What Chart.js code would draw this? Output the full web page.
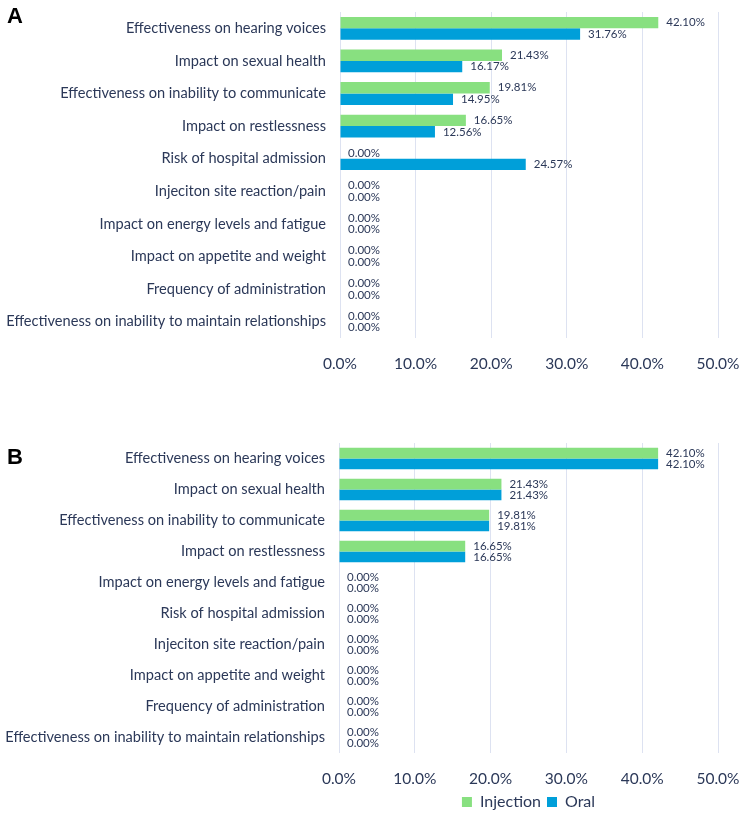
<!DOCTYPE html>
<html>
<head>
<meta charset="utf-8">
<script src="https://cdn.jsdelivr.net/npm/chart.js@4"></script>
<style>
  html, body { margin: 0; padding: 0; background: #fff; overflow: hidden; }
  .panel { position: absolute; left: 0; width: 750px; }
  #wrap-a { top: 0; height: 385px; }
  #wrap-b { top: 385px; height: 435px; }
  .letter { position: absolute; left: 7px; font: bold 22px "Liberation Sans", Arial, sans-serif; color: #000; }
</style>
</head>
<body>
<div class="panel" id="wrap-a"><canvas id="chart-a"></canvas></div>
<div class="panel" id="wrap-b"><canvas id="chart-b"></canvas></div>
<div class="letter" style="top:3px">A</div>
<div class="letter" style="top:444px">B</div>
<script>
const seriesNames = ['Injection', 'Oral'];

const categoriesA = [
    'Effectiveness on hearing voices',
    'Impact on sexual health',
    'Effectiveness on inability to communicate',
    'Impact on restlessness',
    'Risk of hospital admission',
    'Injeciton site reaction/pain',
    'Impact on energy levels and fatigue',
    'Impact on appetite and weight',
    'Frequency of administration',
    'Effectiveness on inability to maintain relationships'
];
const injectionA = [42.10, 21.43, 19.81, 16.65, 0, 0, 0, 0, 0, 0];
const oralA = [31.76, 16.17, 14.95, 12.56, 24.57, 0, 0, 0, 0, 0];

const categoriesB = [
    'Effectiveness on hearing voices',
    'Impact on sexual health',
    'Effectiveness on inability to communicate',
    'Impact on restlessness',
    'Impact on energy levels and fatigue',
    'Risk of hospital admission',
    'Injeciton site reaction/pain',
    'Impact on appetite and weight',
    'Frequency of administration',
    'Effectiveness on inability to maintain relationships'
];
const injectionB = [42.10, 21.43, 19.81, 16.65, 0, 0, 0, 0, 0, 0];
const oralB = [42.10, 21.43, 19.81, 16.65, 0, 0, 0, 0, 0, 0];

const xTicks = [0, 10, 20, 30, 40, 50];

const textColor = '#2b3858';
const gridColor = '#dde2f1';
const green = '#88e080';
const blue = '#009fd9';

// value labels next to each bar (no datalabels plugin available)
const barValueLabels = {
    id: 'barValueLabels',
    afterDatasetsDraw(chart) {
        const ctx = chart.ctx;
        ctx.save();
        ctx.font = '11.5px Lato';
        ctx.fillStyle = textColor;
        ctx.textAlign = 'left';
        ctx.textBaseline = 'middle';
        chart.data.datasets.forEach((ds, i) => {
            chart.getDatasetMeta(i).data.forEach((bar, j) => {
                ctx.fillText(ds.data[j].toFixed(2) + '%', bar.x + 8, bar.y);
            });
        });
        ctx.restore();
    }
};

function makeChart(id, labels, injection, oral, opts) {
    return new Chart(document.getElementById(id), {
        type: 'bar',
        data: {
            labels: labels,
            datasets: [
                { label: seriesNames[0], data: injection, backgroundColor: green, borderWidth: 0 },
                { label: seriesNames[1], data: oral, backgroundColor: blue, borderWidth: 0 }
            ]
        },
        options: {
            indexAxis: 'y',
            responsive: true,
            maintainAspectRatio: false,
            animation: false,
            categoryPercentage: 0.7,
            barPercentage: 1.0,
            layout: { padding: { top: opts.top, right: 32, left: 0, bottom: 0 } },
            plugins: {
                legend: {
                    display: opts.legend,
                    position: 'bottom',
                    fullSize: false,
                    labels: {
                        color: textColor,
                        font: { family: 'Lato', size: 16 },
                        boxWidth: 10,
                        boxHeight: 10,
                        padding: 6
                    }
                },
                tooltip: { enabled: false }
            },
            scales: {
                x: {
                    min: 0,
                    max: 50,
                    afterBuildTicks: axis => { axis.ticks = xTicks.map(v => ({ value: v })); },
                    afterFit: axis => {
                        axis.height = opts.xHeight;
                        axis.paddingLeft = 0;
                        axis.paddingRight = 0;
                    },
                    grid: { color: gridColor, drawTicks: false },
                    border: { display: false },
                    ticks: {
                        color: textColor,
                        font: { family: 'Lato', size: 15.5 },
                        padding: 17,
                        callback: v => v.toFixed(1) + '%'
                    }
                },
                y: {
                    afterFit: axis => {
                        axis.width = opts.yWidth;
                        axis.paddingTop = 0;
                        axis.paddingBottom = 0;
                    },
                    grid: { display: false, drawTicks: false },
                    border: { display: false },
                    ticks: {
                        color: textColor,
                        font: { family: 'Lato', size: 14.6 },
                        padding: 14,
                        autoSkip: false
                    }
                }
            }
        },
        plugins: [barValueLabels]
    });
}

makeChart('chart-a', categoriesA, injectionA, oralA, { top: 12, xHeight: 47, yWidth: 340, legend: false });
makeChart('chart-b', categoriesB, injectionB, oralB, { top: 58, xHeight: 35, yWidth: 339, legend: true });
</script>
</body>
</html>
